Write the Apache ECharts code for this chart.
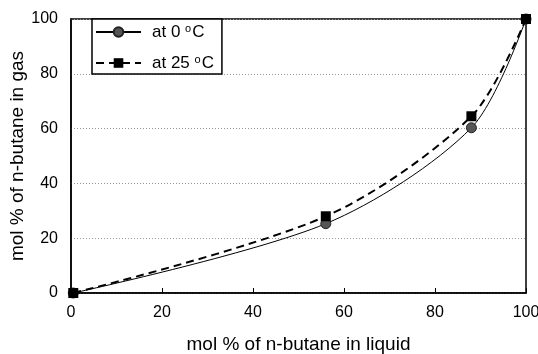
<!DOCTYPE html>
<html><head><meta charset="utf-8">
<script src="https://cdn.jsdelivr.net/npm/echarts@6/dist/echarts.min.js"></script>
<style>html,body{margin:0;padding:0;background:#fff}#c{width:538px;height:354px}</style>
</head><body><div id="c"></div>
<script>
const xLiquid = [0.5, 56, 88, 100];
const yGas0C = [0, 25.3, 60.3, 100];
const yGas25C = [0, 28, 64.5, 100];
const seriesNames = ['at 0 °C', 'at 25 °C'];
const xTicks = [0, 20, 40, 60, 80, 100];
const yTicks = [0, 20, 40, 60, 80, 100];

const chart = echarts.init(document.getElementById('c'), null, {renderer: 'canvas'});
const font = 'Liberation Sans, Arial, sans-serif';
const pairs = (xs, ys) => xs.map((x, i) => [x, ys[i]]);
chart.setOption({
  animation: false,
  textStyle: {fontFamily: font},
  grid: {left: 71, right: 12, top: 19, bottom: 61, containLabel: false, outerBoundsMode: 'none',
    show: true, borderColor: '#000', borderWidth: 1.5, backgroundColor: 'transparent'},
  legend: {
    left: 92, top: 19, orient: 'vertical',
    backgroundColor: '#fff', borderColor: '#000', borderWidth: 1.5,
    padding: [4, 8, 2, 3], itemGap: 13, itemWidth: 45, itemHeight: 12,
    data: seriesNames,
    formatter: n => n === seriesNames[0] ? 'at 0 {s|o}C' : 'at 25 {s|o}C',
    textStyle: {fontFamily: font, fontSize: 17, color: '#000', lineHeight: 18, padding: [0, 0, 0, 6],
      rich: {s: {fontSize: 11, verticalAlign: 'top', lineHeight: 18, padding: [0, 1, 0, 0], fontFamily: font, color: '#000'}}}
  },
  xAxis: {
    type: 'value', min: 0, max: 100, interval: 20,
    name: 'mol % of n-butane in liquid', nameLocation: 'middle', nameGap: 42, nameMoveOverlap: false,
    nameTextStyle: {fontSize: 19, color: '#000', fontFamily: font},
    axisLine: {lineStyle: {color: '#000', width: 1.5}},
    axisTick: {inside: true, length: 5, lineStyle: {color: '#000'}},
    axisLabel: {fontSize: 16, color: '#000', margin: 12, fontFamily: font,
      formatter: v => xTicks.includes(v) ? String(v) : ''},
    splitLine: {show: false}
  },
  yAxis: {
    type: 'value', min: 0, max: 100, interval: 20,
    name: 'mol % of n-butane in gas', nameLocation: 'middle', nameGap: 44, nameMoveOverlap: false,
    nameTextStyle: {fontSize: 19, color: '#000', fontFamily: font},
    axisLine: {lineStyle: {color: '#000', width: 1.5}},
    axisTick: {show: false},
    axisLabel: {fontSize: 16, color: '#000', margin: 13, fontFamily: font,
      formatter: v => yTicks.includes(v) ? String(v) : ''},
    splitLine: {show: true, lineStyle: {color: '#999', type: [1, 2], width: 1}}
  },
  series: [
    {name: seriesNames[0], type: 'line', data: pairs(xLiquid, yGas0C), smooth: 0.3,
      symbol: 'circle', symbolSize: 10, z: 3,
      itemStyle: {color: '#555', borderColor: '#222', borderWidth: 1},
      lineStyle: {color: '#000', width: 1}},
    {name: seriesNames[1], type: 'line', data: pairs(xLiquid, yGas25C), smooth: 0.3,
      symbol: 'rect', symbolSize: 10, z: 4,
      itemStyle: {color: '#000'},
      lineStyle: {color: '#000', width: 2, type: [8, 5]}}
  ]
});
</script></body></html>
